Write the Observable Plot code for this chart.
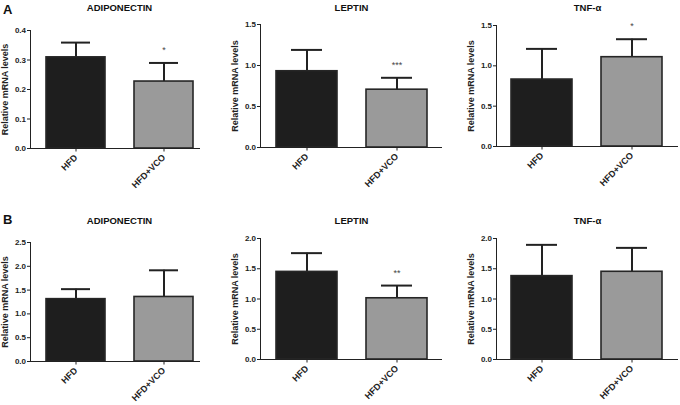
<!DOCTYPE html>
<html><head><meta charset="utf-8">
<script src="https://cdn.jsdelivr.net/npm/d3@7"></script>
<script src="https://cdn.jsdelivr.net/npm/@observablehq/plot@0.6"></script>
<style>
body{margin:0;background:#fff;}
#chart{position:relative;width:680px;height:405px;overflow:hidden;background:#fff;font-family:"Liberation Sans",Arial,sans-serif;}
.panel{position:absolute;}
.panel [aria-label="x-axis tick label"] text{font-size:9px;}
.panel [aria-label="y-axis label"] text{font-size:9px;}
.letter{position:absolute;font-weight:bold;font-size:13px;line-height:13px;color:#111;}
</style></head><body><div id="chart"></div>
<script>
const groups = ["HFD", "HFD+VCO"];
const genes = ["ADIPONECTIN", "LEPTIN", "TNF-α"];
const panelLetters = ["A", "B"];
const yLabel = "Relative mRNA levels";
// Panel A (means and upper error)
const meanA = [[0.309, 0.227], [0.93, 0.705], [0.83, 1.107]];
const errA = [[0.05, 0.063], [0.26, 0.145], [0.38, 0.223]];
const sigA = [["", "*"], ["", "***"], ["", "*"]];
const yMaxA = [0.4, 1.5, 1.5];
const yStepA = [0.1, 0.5, 0.5];
// Panel B
const meanB = [[1.31, 1.356], [1.448, 1.012], [1.378, 1.45]];
const errB = [[0.21, 0.56], [0.31, 0.21], [0.517, 0.395]];
const sigB = [["", ""], ["", "**"], ["", ""]];
const yMaxB = [2.5, 2.0, 2.0];
const yStepB = [0.5, 0.5, 0.5];

// layout (pixels)
const cols = [
  {left: 0, width: 210, ml: 30, mr: 10, range: [45.7, 193.2], titleDx: 4},
  {left: 220, width: 230, ml: 40, mr: 8, range: [275, 427.3], titleDx: 0},
  {left: 450, width: 230, ml: 46, mr: 2, range: [510.7, 662.3], titleDx: 0}
];
const rows = [
  {top: 0, height: 200, mt: [30, 24, 25], mb: [52, 53, 54], titleBase: 10, letterTop: 3},
  {top: 200, height: 205, mt: [42, 38, 38], mb: [44, 46, 46], titleBase: 23, letterTop: 213}
];

const chart = document.getElementById("chart");

function drawPanel(r, c) {
  const row = rows[r], col = cols[c];
  const means = (r === 0 ? meanA : meanB)[c];
  const errs = (r === 0 ? errA : errB)[c];
  const sigs = (r === 0 ? sigA : sigB)[c];
  const ymax = (r === 0 ? yMaxA : yMaxB)[c];
  const ystep = (r === 0 ? yStepA : yStepB)[c];
  const data = groups.map((g, i) => ({group: g, mean: means[i], hi: means[i] + errs[i], sig: sigs[i]}));
  const ticks = d3.range(0, ymax + ystep / 2, ystep);
  const mt = row.mt[c];
  const svg = Plot.plot({
    width: col.width, height: row.height,
    marginTop: mt, marginBottom: row.mb[c], marginLeft: col.ml, marginRight: col.mr,
    style: {fontFamily: "'Liberation Sans', Arial, sans-serif", fontSize: "8px", fontWeight: "bold", color: "#222", background: "transparent", overflow: "visible"},
    x: {domain: groups, range: col.range.map(v => v - col.left), paddingInner: 0.325, paddingOuter: 0, label: null, tickSize: 3.5, tickPadding: 4, tickRotate: -45},
    y: {domain: [0, ymax], ticks, tickFormat: d3.format(".1f"), tickSize: 3, tickPadding: 1.5, line: true, label: yLabel, labelArrow: "none", labelAnchor: "center", labelOffset: 29},
    color: {domain: groups, range: ["#1e1e1e", "#9a9a9a"]},
    marks: [
      Plot.ruleX(data, {x: "group", y1: "mean", y2: "hi", stroke: "#222", strokeWidth: 2}),
      Plot.tickY(data, {x: "group", y: "hi", stroke: "#222", strokeWidth: 2, insetLeft: 15, insetRight: 15}),
      Plot.barY(data, {x: "group", y: "mean", fill: "group", stroke: "#262626", strokeWidth: 1.6}),
      Plot.ruleY([0], {stroke: "#222", strokeWidth: 1.2}),
      Plot.text(data, {x: "group", y: "hi", text: "sig", dy: -10, lineAnchor: "bottom", fontSize: 9, fill: "#444", fontWeight: "normal"}),
      Plot.text([genes[c]], {frameAnchor: "top", dx: col.titleDx, dy: row.titleBase - mt, lineAnchor: "bottom", fontSize: 9.5, fontWeight: "bold", fill: "#111"})
    ]
  });
  svg.classList.add("panel");
  svg.style.left = col.left + "px";
  svg.style.top = row.top + "px";
  chart.appendChild(svg);
}

for (let r = 0; r < 2; r++) {
  for (let c = 0; c < 3; c++) drawPanel(r, c);
  const L = document.createElement("div");
  L.className = "letter";
  L.textContent = panelLetters[r];
  L.style.left = "3px";
  L.style.top = rows[r].letterTop + "px";
  chart.appendChild(L);
}
</script></body></html>
